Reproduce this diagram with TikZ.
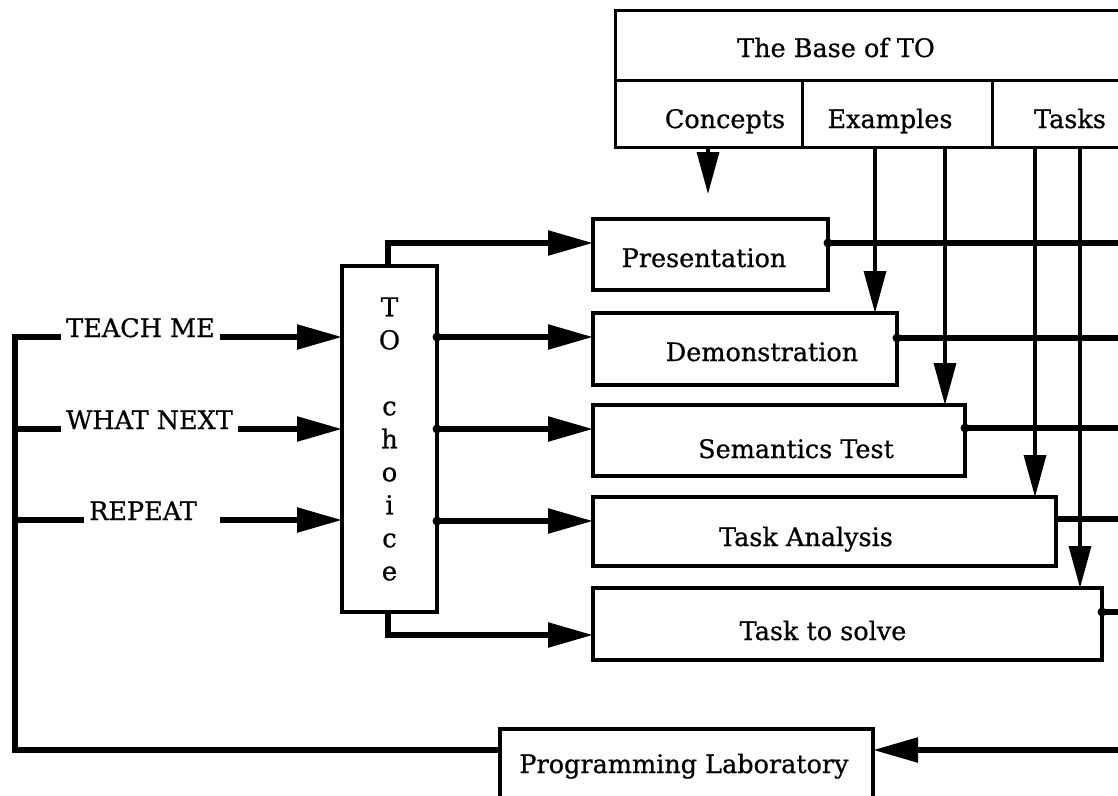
\documentclass[tikz,border=0pt]{standalone}
\usepackage{fontspec}
\setmainfont{DejaVu Serif}[FakeBold=0.7]
\usetikzlibrary{arrows.meta}
\begin{document}
\begin{tikzpicture}[x=1pt,y=-1pt,
  every node/.style={font=\fontsize{25.5}{30}\selectfont},
  box/.style={draw,line width=3.8pt,outer sep=0pt,inner sep=0pt,anchor=north west},
  basebox/.style={draw,line width=3pt,outer sep=0pt,inner sep=0pt,anchor=north west},
  txt/.style={inner sep=0pt,anchor=base},
  lbl/.style={inner xsep=5pt,inner ysep=0pt,anchor=base west},
  conn/.style={line width=5.5pt},
  thin/.style={line width=3.3pt},
  arr/.style={-{Triangle[length=45pt,width=24pt]}},
  varr/.style={-{Triangle[length=42pt,width=22pt]}},
  dot/.style={fill=black}]
\useasboundingbox (0,0) rectangle (1118,795);
\clip (0,0) rectangle (1118,795);

% The Base of TO
\node[basebox,minimum width=520pt,minimum height=70pt] (base) at (615,10) {};
\node[basebox,minimum width=187pt,minimum height=67pt] (concepts) at (615,80) {};
\node[basebox,minimum width=190pt,minimum height=67pt] (examples) at (802,80) {};
\node[basebox,minimum width=143pt,minimum height=67pt] (tasks) at (992,80) {};
\node[txt] (baseT) at (836,57) {The Base of TO};
\node[txt] (conceptsT) at (725,128) {Concepts};
\node[txt] (examplesT) at (890,128) {Examples};
\node[txt] (tasksT) at (1070,128) {Tasks};

% Right column boxes
\node[box,minimum width=235pt,minimum height=71pt] (pres) at (593,219) {};
\node[box,minimum width=304pt,minimum height=72pt] (demo) at (593,313) {};
\node[box,minimum width=372pt,minimum height=71pt] (sem) at (593,405) {};
\node[box,minimum width=463pt,minimum height=69pt] (ta) at (593,497) {};
\node[box,minimum width=509pt,minimum height=72pt] (solve) at (593,588) {};
\node[box,minimum width=373pt,minimum height=95pt] (prog) at (500,729) {};
\node[txt] (presT) at (704,267) {Presentation};
\node[txt] (demoT) at (762,361) {Demonstration};
\node[txt] (semT) at (796,458) {Semantics Test};
\node[txt] (taT) at (806,546) {Task Analysis};
\node[txt] (solveT) at (823,640) {Task to solve};
\node[txt] (progT) at (684,773) {Programming Laboratory};

% TO choice
\node[box,minimum width=95pt,minimum height=346pt,align=center,
      font=\fontsize{26}{33}\selectfont] (choice) at (342,266)
      {T\\O\\[33pt]c\\h\\o\\i\\c\\e};

% Left labels
\node[lbl] (teach) at (61,337) {TEACH ME};
\node[lbl] (what) at (61,429) {WHAT NEXT};
\node[lbl] (repeat) at (84,520) {REPEAT};

% coordinates
\coordinate (cend) at (708,194);
\coordinate (ex1) at (875,0);
\coordinate (ex2) at (945,0);
\coordinate (tk1) at (1035,0);
\coordinate (tk2) at (1080,0);
\coordinate (e1) at (1130,243);
\coordinate (e2) at (1130,338);
\coordinate (e3) at (1130,428);
\coordinate (e4) at (1130,519);
\coordinate (e5) at (1130,612);
\coordinate (pr) at (1130,750);
\coordinate (t0) at (388,243);
\coordinate (b0) at (388,635);
\coordinate (m1) at (0,337);
\coordinate (m2) at (0,429);
\coordinate (m3) at (0,521);
\coordinate (fb) at (15,750);
\coordinate (l1) at (15,337);
\coordinate (l2) at (15,429);
\coordinate (l3) at (15,520);
\coordinate (r3) at (220,520);

% Base arrows
\draw[thin,varr] (concepts.south -| cend) -- (cend);
\draw[thin,varr] (examples.south -| ex1) -- (demo.north -| ex1);
\draw[thin,varr] (examples.south -| ex2) -- (sem.north -| ex2);
\draw[thin,varr] (tasks.south -| tk1) -- (ta.north -| tk1);
\draw[thin,varr] (tasks.south -| tk2) -- (solve.north -| tk2);

% Outputs to right
\draw[conn] (pres.east |- e1) -- (e1);
\draw[conn] (demo.east |- e2) -- (e2);
\draw[conn] (sem.east |- e3) -- (e3);
\draw[conn] (ta.east |- e4) -- (e4);
\draw[conn] (solve.east |- e5) -- (e5);
\fill[dot] (pres.east |- e1) circle (4.5pt);
\fill[dot] (demo.east |- e2) circle (4.5pt);
\fill[dot] (sem.east |- e3) circle (4.5pt);
\fill[dot] (solve.east |- e5) circle (4.5pt);

% Programming laboratory feedback
\draw[conn,arr] (pr) -- (prog.east |- pr);
\draw[conn] (prog.west |- fb) -- (fb) -- (l1) -- (teach.base west);
\draw[conn] (l2) -- (what.base west);
\draw[conn] (l3) -- (repeat.base west);
\draw[conn,arr] (teach.base east) -- (choice.west |- l1);
\draw[conn,arr] (what.base east) -- (choice.west |- l2);
\draw[conn,arr] (r3) -- (choice.west |- l3);

% TO choice outputs
\draw[conn,arr] (choice.north -| t0) -- (t0) -- (pres.west |- t0);
\draw[conn,arr] (choice.east |- m1) -- (demo.west |- m1);
\draw[conn,arr] (choice.east |- m2) -- (sem.west |- m2);
\draw[conn,arr] (choice.east |- m3) -- (ta.west |- m3);
\draw[conn,arr] (choice.south -| b0) -- (b0) -- (solve.west |- b0);
\fill[dot] (choice.east |- m1) circle (4.5pt);
\fill[dot] (choice.east |- m2) circle (4.5pt);
\fill[dot] (choice.east |- m3) circle (4.5pt);
\end{tikzpicture}
\end{document}
